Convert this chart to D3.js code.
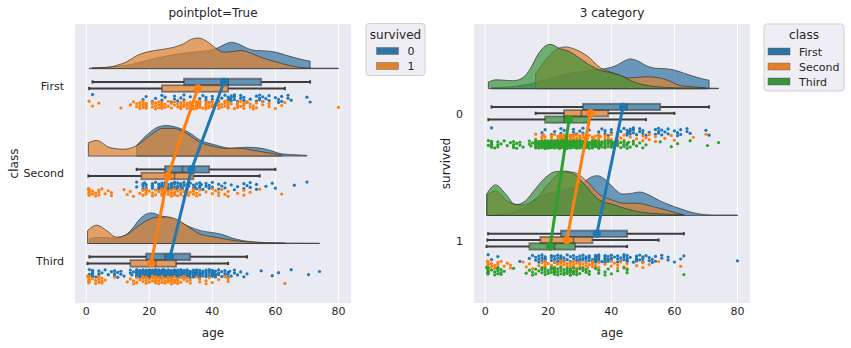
<!DOCTYPE html>
<html>
<head>
<meta charset="utf-8">
<script src="https://cdn.jsdelivr.net/npm/d3@7"></script>
<style>
  body { margin: 0; background: #fff; }
  text { font-family: "DejaVu Sans", sans-serif; fill: #262626; }
</style>
</head>
<body>
<svg id="mainSVG" width="851" height="348"></svg>
<script>
// categorias e ticks
var classes = ["First", "Second", "Third"];
var survivedLevels = ["0", "1"];
var ageTicks = [0, 20, 40, 60, 80];

// idades (titanic), por classe / sobreviveu
var agesFirst0 = [2,18,19,21,22,24,24,25,27,28,28,29,30,31,31,33,36,36,37,38,38,39,40,40,42,43,44,45,45,45,45.5,46,46,46,47,47,47,48,49,49,50,50,51,52,54,54,55,55,55,56,56,57,58,58,60,61,61,62,62,64,64,65,70,71];
var agesFirst1 = [0.92,2,4,11,14,15,16,16,17,17,17,18,18,18,19,19,19,19,21,21,21,22,22,22,23,23,23,24,24,24,24,24,25,25,26,26,27,27,28,28,29,29,30,30,30,30,31,31,31,32,32,32,33,33,33,34,34,35,35,35,35,35,35,35,35,36,36,36,36,36,36,37,38,38,38,38,38,39,39,39,40,40,40,41,42,42,42,43,43,44,44,44,45,45,45,45,46,47,48,48,48,48,49,49,50,50,50,51,52,52,53,53,54,54,56,56,58,58,60,62,63,80];
var agesSecond0 = [16,16,18,18,18,18.5,19,19,19,21,21,21,21,22,23,23,23,23.5,24,24,24,24,24.5,25,25,25,25,26,26,26,27,27,27,27,28,28,28,28.5,29,29,29,30,30,30,30,30.5,31,31,32,32,32,32.5,33,34,34,34,34.5,35,35,36,36,36,36.5,37,38,38,39,39,40,40,42,42,43,44,44,46,47,48,50,50,51,52,52,54,54,57,59,60,66,70];
var agesSecond1 = [0.67,0.83,0.83,0.92,1,1,2,2,3,3,4,4,4,5,6,7,8,8,12,13,14,15,17,18,18,19,19,19,20,21,21,22,22,23,24,24,24,24,25,25,26,26,27,27,27,28,28,28,28,29,29,30,30,30,31,31,32,32,32.5,33,34,34,34,35,35,36,36,38,40,40,41,42,42,43,44,45,45,48,50,50,52,55,62];
var agesThird0 = [1,1,2,2,2,2,2,2,3,4,4,4,5,6,7,8,9,9,9,9,10,10,11,11,12,
  14,14,14.5,15,16,16,16,16,16,16,16,17,17,17,17,17,17,17,18,18,18,18,18,18,18,18,18,18,18,18,19,19,19,19,19,19,19,19,19,19,19,19,
  20,20,20,20,20,20,20,20,20,20,20.5,21,21,21,21,21,21,21,21,21,21,21,22,22,22,22,22,22,22,22,22,22,22,22,23,23,23,23,23,23,23,23,23,23.5,
  24,24,24,24,24,24,24,24,24,24,24,24,24.5,25,25,25,25,25,25,25,25,25,25,25,
  26,26,26,26,26,26,26,26,26,26,27,27,27,27,27,27,27,27,28,28,28,28,28,28,28,28,28,28,28.5,28.5,29,29,29,29,29,29,29,29,
  30,30,30,30,30,30,30,30,30,30.5,31,31,31,31,31,31,31,32,32,32,32,32,32,32,32.5,33,33,33,33,
  34,34,34,34,34,34,34.5,35,35,35,35,35,35,36,36,36,36,36,36,36.5,37,37,37,38,38,38,38,38,39,39,39,39,40,40,40,40,40,40,40.5,
  41,41,41,41,42,42,42,43,43,44,44,44,45,45,45,45.5,46,47,47,48,49,50,51,55.5,59,61,65,70.5,74];
var agesThird1 = [0.42,0.75,0.75,0.83,1,1,1,2,3,3,4,4,4,4,5,5,5,6,9,13,14,15,15,16,16,17,18,18,18,19,19,19,20,20,21,21,21,22,22,22,22,22,23,23,23,24,24,24,25,25,25,26,26,26,27,27,27,27,28,28,28,28,29,29,29,30,30,31,31,32,32,33,33,35,36,36,38,38,39,40,42,44,45,45,63];

var densFirst0 = [[2,0.02],[6,0.03],[10,0.06],[14,0.1],[18,0.18],[22,0.26],[26,0.33],[30,0.38],[34,0.42],[38,0.45],[41.5,0.52],[44,0.62],[46,0.67],[48.5,0.62],[51,0.52],[54,0.46],[57,0.45],[60,0.42],[63,0.35],[66,0.28],[69,0.22],[71,0.19]];
var densFirst1 = [[0.92,0.01],[4,0.02],[7.5,0.04],[10,0.09],[12.8,0.17],[16,0.33],[19.2,0.42],[23.4,0.48],[27.6,0.54],[30.8,0.63],[33.5,0.75],[35.6,0.78],[38.7,0.67],[41.4,0.5],[43.5,0.42],[46,0.43],[49,0.46],[52,0.4],[55,0.3],[58,0.22],[62,0.13],[65,0.07],[68,0.03],[72,0.01],[80,0.01]];
var densSecond0 = [[16,0.33],[19.6,0.68],[23,0.9],[25.5,0.94],[28,0.9],[32.3,0.74],[36.5,0.47],[40.7,0.35],[45.7,0.24],[51,0.27],[55.5,0.24],[58.5,0.17],[61.9,0.07],[66,0.04],[70,0.02]];
var densSecond1 = [[0.67,0.41],[3.3,0.48],[7.5,0.26],[11.7,0.21],[16,0.32],[20.2,0.63],[24.4,0.85],[27.6,0.85],[31.9,0.69],[36.1,0.42],[40.3,0.3],[44,0.24],[48,0.24],[54,0.16],[59.4,0.07],[62,0.03]];
var densThird0 = [[1,0.15],[3.5,0.2],[6,0.19],[9,0.18],[12,0.25],[14.3,0.45],[16.9,0.79],[18.5,0.93],[20.6,1.0],[23.8,0.9],[26.6,0.84],[29.7,0.7],[32.5,0.56],[36.3,0.42],[40.5,0.35],[43,0.3],[46.5,0.17],[49.5,0.1],[53.5,0.05],[60,0.02],[66,0.015],[74,0.01]];
var densThird1 = [[0.42,0.42],[3.3,0.6],[6.5,0.42],[9.6,0.21],[12.8,0.29],[16,0.53],[19.2,0.75],[22.3,0.86],[25.5,0.87],[28.7,0.79],[31.9,0.58],[36,0.31],[40.3,0.22],[46.7,0.1],[53,0.04],[63,0.02]];

// boxplot e media: [classe][sobreviveu]
var whiskerLow  = [[2, 0.92], [16, 0.67], [1, 0.42]];
var boxQ1       = [[31, 24], [25, 17.5], [19, 14]];
var boxMedian   = [[45, 35], [30.5, 28], [25, 22]];
var boxQ3       = [[55.5, 45], [39, 34], [33, 28.5]];
var whiskerHigh = [[71, 63], [60, 55], [51, 45]];
var meanAge     = [[43.7, 35.4], [33.4, 25.9], [26.6, 20.6]];

var vivid = ["#1f77b4", "#ff7f0e", "#2ca02c"];
var muted = ["#3274a1", "#e1812c", "#3a923a"];

var ages = [[agesFirst0, agesFirst1], [agesSecond0, agesSecond1], [agesThird0, agesThird1]];
var dens = [[densFirst0, densFirst1], [densSecond0, densSecond1], [densThird0, densThird1]];

function grupo(c, s) {
	return {ages: ages[c][s], dens: dens[c][s], lo: whiskerLow[c][s], q1: boxQ1[c][s],
		med: boxMedian[c][s], q3: boxQ3[c][s], hi: whiskerHigh[c][s], mean: meanAge[c][s]};
}

var mainSVG = d3.select("#mainSVG");
var topY = 24, panelH = 279, panelW = 276;
var ageDomain = [-3.56, 83.98];
var boxWidth = 0.15, violOffset = 0.2, violWidth = 0.35;

// jitter deterministico
function jit(i) { return ((i * 0.6180339887) % 1) - 0.5; }

function raincloud(p) {
	var g = mainSVG.append("g");
	var x = d3.scaleLinear().domain(ageDomain).range([p.left, p.left + panelW]);
	var y = d3.scaleLinear().domain(p.yDomain).range([topY, topY + panelH]);
	var nH = p.hues.length;
	var hueW = boxWidth / nH;
	function dodge(h) { return -boxWidth / 2 + hueW * (h + 0.5) + p.boxShift; }

	g.append("rect").attr("x", p.left).attr("y", topY).attr("width", panelW).attr("height", panelH).attr("fill", "#eaeaf2");
	g.selectAll(".grid").data(ageTicks).enter().append("line")
		.attr("x1", d => x(d)).attr("x2", d => x(d)).attr("y1", topY).attr("y2", topY + panelH)
		.attr("stroke", "#fff").attr("stroke-width", 1);

	// nuvens (meio violino)
	p.cats.forEach(function (cat, ci) {
		var grs = p.hues.map(function (hu, hi) { return p.group(ci, hi); });
		var maxD = d3.max(grs, gr => d3.max(gr.dens, d => d[1]));
		grs.forEach(function (gr, hi) {
			var area = d3.area()
				.x(d => x(d[0]))
				.y0(y(ci - violOffset))
				.y1(d => y(ci - violOffset - d[1] / maxD * violWidth))
				.curve(d3.curveMonotoneX);
			g.append("path").attr("d", area(gr.dens))
				.attr("fill", muted[hi]).attr("fill-opacity", 0.7)
				.attr("stroke", "#3a3a3a").attr("stroke-opacity", 0.75).attr("stroke-width", 1);
		});
	});

	// boxplots
	p.cats.forEach(function (cat, ci) {
		p.hues.forEach(function (hu, hi) {
			var gr = p.group(ci, hi);
			var cy = y(ci + dodge(hi));
			var bh = y(hueW) - y(0);
			[[gr.lo, gr.q1], [gr.q3, gr.hi]].forEach(function (seg) {
				g.append("line").attr("x1", x(seg[0])).attr("x2", x(seg[1])).attr("y1", cy).attr("y2", cy)
					.attr("stroke", "#3d3d3d").attr("stroke-width", 2);
			});
			[gr.lo, gr.hi].forEach(function (v) {
				g.append("line").attr("x1", x(v)).attr("x2", x(v)).attr("y1", cy - bh / 4).attr("y2", cy + bh / 4)
					.attr("stroke", "#3d3d3d").attr("stroke-width", 2);
			});
			g.append("rect").attr("x", x(gr.q1)).attr("y", cy - bh / 2)
				.attr("width", x(gr.q3) - x(gr.q1)).attr("height", bh)
				.attr("fill", muted[hi]).attr("fill-opacity", 0.75)
				.attr("stroke", "#3d3d3d").attr("stroke-opacity", 0.6).attr("stroke-width", 1.8);
			g.append("line").attr("x1", x(gr.med)).attr("x2", x(gr.med)).attr("y1", cy - bh / 2).attr("y2", cy + bh / 2)
				.attr("stroke", "#3d3d3d").attr("stroke-opacity", 0.6).attr("stroke-width", 1.8);
		});
	});

	// chuva (stripplot)
	p.cats.forEach(function (cat, ci) {
		p.hues.forEach(function (hu, hi) {
			var gr = p.group(ci, hi);
			g.selectAll(null).data(gr.ages).enter().append("circle")
				.attr("cx", d => x(d))
				.attr("cy", (d, i) => y(ci + p.stripBase + dodge(hi) - p.boxShift + jit(i) * 2 * p.jitter))
				.attr("r", 1.6)
				.attr("fill", vivid[hi]);
		});
	});

	// pointplot das medias
	p.hues.forEach(function (hu, hi) {
		var pts = p.cats.map(function (cat, ci) { return [p.group(ci, hi).mean, ci + dodge(hi)]; });
		g.append("path").attr("d", d3.line().x(d => x(d[0])).y(d => y(d[1]))(pts))
			.attr("fill", "none").attr("stroke", vivid[hi]).attr("stroke-width", 3);
		g.selectAll(null).data(pts).enter().append("circle")
			.attr("cx", d => x(d[0])).attr("cy", d => y(d[1])).attr("r", 4.2)
			.attr("fill", vivid[hi]);
	});

	// eixos
	g.selectAll(".xt").data(ageTicks).enter().append("text")
		.attr("x", d => x(d)).attr("y", 314.5).attr("text-anchor", "middle")
		.style("font-size", "11px").text(d => d);
	g.selectAll(".yt").data(p.cats).enter().append("text")
		.attr("x", p.left - 11).attr("y", (d, i) => y(i)).attr("dy", "0.35em").attr("text-anchor", "end")
		.style("font-size", "11px").text(d => d);
	g.append("text").attr("x", p.left + panelW / 2).attr("y", 337).attr("text-anchor", "middle")
		.style("font-size", "12px").text("age");
	g.append("text").attr("x", p.left + panelW / 2).attr("y", 16.5).attr("text-anchor", "middle")
		.style("font-size", "12px").text(p.title);
	g.append("text").attr("transform", "translate(" + p.ylabX + "," + (topY + panelH / 2) + ") rotate(-90)")
		.attr("text-anchor", "middle").style("font-size", "12px").text(p.ylabel);

	// legenda
	var L = p.legend;
	g.append("rect").attr("x", L.x).attr("y", L.y).attr("width", L.w).attr("height", 22 + 15 * nH)
		.attr("rx", 3).attr("fill", "#eeeef4").attr("stroke", "#d0d0d0").attr("stroke-width", 1);
	g.append("text").attr("x", L.x + L.w / 2).attr("y", L.y + 15).attr("text-anchor", "middle")
		.style("font-size", "12px").text(p.legendTitle);
	p.hues.forEach(function (hu, hi) {
		var ly = L.y + 24 + 15 * hi;
		g.append("rect").attr("x", L.patchX).attr("y", ly).attr("width", 22).attr("height", 7)
			.attr("fill", muted[hi]).attr("stroke", "#555").attr("stroke-width", 0.4);
		g.append("text").attr("x", L.patchX + 31).attr("y", ly + 7.5).style("font-size", "11px").text(hu);
	});
}

raincloud({
	left: 75, yDomain: [-0.71, 2.48], cats: classes, hues: survivedLevels,
	group: function (ci, hi) { return grupo(ci, hi); },
	boxShift: -0.01, stripBase: 0.18, jitter: 0.045,
	title: "pointplot=True", ylabel: "class", ylabX: 17.5,
	legendTitle: "survived", legend: {x: 366, y: 23.5, w: 59, patchX: 376.5}
});

raincloud({
	left: 474, yDomain: [-0.71, 1.49], cats: survivedLevels, hues: classes,
	group: function (ci, hi) { return grupo(hi, ci); },
	boxShift: -0.006, stripBase: 0.19, jitter: 0.031,
	title: "3 category", ylabel: "survived", ylabX: 449.5,
	legendTitle: "class", legend: {x: 764, y: 24, w: 80, patchX: 768}
});
</script>
</body>
</html>
